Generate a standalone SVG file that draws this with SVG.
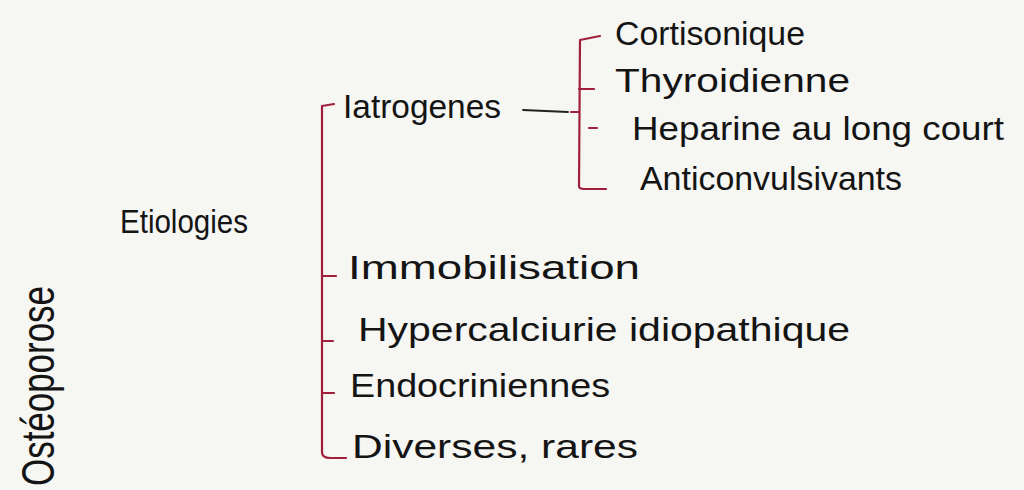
<svg xmlns="http://www.w3.org/2000/svg" width="1024" height="490" viewBox="0 0 1024 490">
<style>
.t{font-family:"Liberation Sans","DejaVu Sans",sans-serif;fill:#141414;font-size:34px}
.b{fill:none;stroke:#a0203c;stroke-width:2.2;stroke-linecap:round;stroke-linejoin:round}
.d{fill:none;stroke:#222;stroke-width:1.8;stroke-linecap:round}
</style>
<rect width="1024" height="490" fill="#f6f6f3"/>
<g id="osteoporose"><text class="t" transform="translate(54,486) rotate(-90)" style="font-size:46px" textLength="200" lengthAdjust="spacingAndGlyphs">Ostéoporose</text></g>
<g id="etiologies"><text class="t" x="120" y="233" style="font-size:33px" textLength="128" lengthAdjust="spacingAndGlyphs">Etiologies</text></g>
<g id="connectors">
<path class="b" d="M334,104 L322,106 L322,452 Q322,458 330,458 L346,458"/>
<path class="b" d="M322,276 L336,276"/>
<path class="b" d="M322,341 L333,341"/>
<path class="b" d="M322,393 L334,393"/>
<path class="d" d="M523,110 L568,112"/>
<path class="b" d="M600,36 L580,40 L579,186 Q579,189 584,189 L606,189"/>
<path class="b" d="M579,89 L594,89"/>
<path class="b" d="M571,112 L579,112"/>
<path class="b" d="M589,128 L597,128"/>
</g>
<g id="iatrogenes"><text class="t" x="343" y="118" textLength="158" lengthAdjust="spacingAndGlyphs">Iatrogenes</text></g>
<g id="cortisonique"><text class="t" x="615" y="45" textLength="190" lengthAdjust="spacingAndGlyphs">Cortisonique</text></g>
<g id="thyroidienne"><text class="t" x="615" y="92" textLength="235" lengthAdjust="spacingAndGlyphs">Thyroidienne</text></g>
<g id="heparine"><text class="t" x="632" y="140" textLength="372" lengthAdjust="spacingAndGlyphs">Heparine au long court</text></g>
<g id="anticonvulsivants"><text class="t" x="640" y="190" textLength="262" lengthAdjust="spacingAndGlyphs">Anticonvulsivants</text></g>
<g id="immobilisation"><text class="t" x="348" y="279" textLength="292" lengthAdjust="spacingAndGlyphs">Immobilisation</text></g>
<g id="hypercalciurie"><text class="t" x="358" y="341" textLength="492" lengthAdjust="spacingAndGlyphs">Hypercalciurie idiopathique</text></g>
<g id="endocriniennes"><text class="t" x="350" y="397" textLength="260" lengthAdjust="spacingAndGlyphs">Endocriniennes</text></g>
<g id="diverses"><text class="t" x="352" y="458" textLength="286" lengthAdjust="spacingAndGlyphs">Diverses, rares</text></g>
</svg>
